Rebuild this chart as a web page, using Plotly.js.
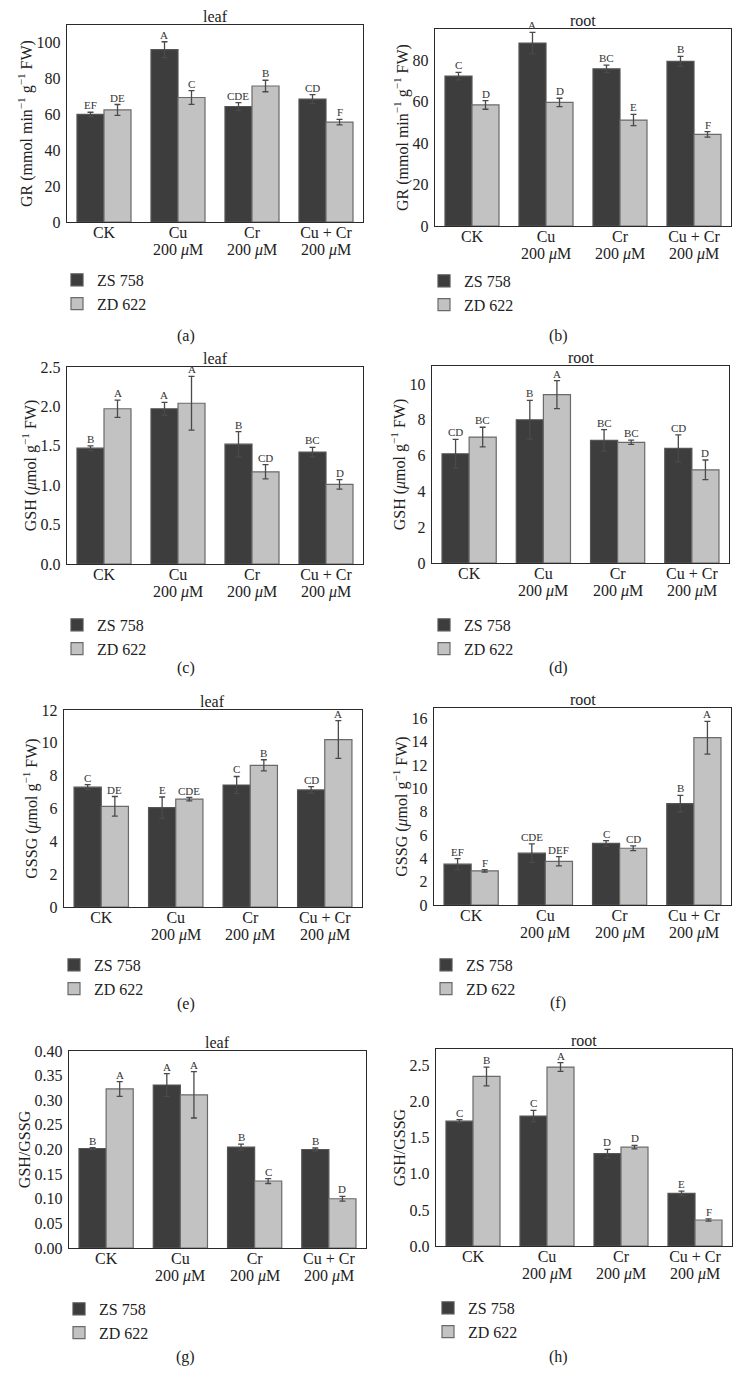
<!DOCTYPE html>
<html>
<head>
<meta charset="utf-8">
<script src="https://cdn.plot.ly/plotly-3.0.1.min.js"></script>
<style>html,body{margin:0;padding:0;background:#fff}#chart{width:743px;height:1389px}</style>
</head>
<body>
<div id="chart"></div>
<script>
// ---------- DATA ----------
const categories = ['CK', 'Cu', 'Cr', 'Cu + Cr'];
const doses = ['', '200 <i>μ</i>M', '200 <i>μ</i>M', '200 <i>μ</i>M'];
const seriesNames = ['ZS 758', 'ZD 622'];

// (a) GR leaf
const grLeafZS = [59.8, 95.8, 64.2, 68.3];
const grLeafZSErr = [1.2, 4.4, 2.2, 2.5];
const grLeafZSLet = ['EF', 'A', 'CDE', 'CD'];
const grLeafZD = [62.3, 69.2, 75.6, 55.5];
const grLeafZDErr = [3.0, 3.8, 3.2, 1.5];
const grLeafZDLet = ['DE', 'C', 'B', 'F'];

// (b) GR root
const grRootZS = [72.3, 88.2, 75.8, 79.4];
const grRootZSErr = [1.8, 5.2, 1.8, 2.4];
const grRootZSLet = ['C', 'A', 'BC', 'B'];
const grRootZD = [58.4, 59.6, 51.1, 44.2];
const grRootZDErr = [2.1, 2.0, 2.7, 1.3];
const grRootZDLet = ['D', 'D', 'E', 'F'];

// (c) GSH leaf
const gshLeafZS = [1.47, 1.97, 1.52, 1.42];
const gshLeafZSErr = [0.03, 0.08, 0.16, 0.06];
const gshLeafZSLet = ['B', 'A', 'B', 'BC'];
const gshLeafZD = [1.97, 2.04, 1.17, 1.01];
const gshLeafZDErr = [0.11, 0.34, 0.09, 0.06];
const gshLeafZDLet = ['A', 'A', 'CD', 'D'];

// (d) GSH root
const gshRootZS = [6.1, 8.0, 6.85, 6.4];
const gshRootZSErr = [0.8, 1.08, 0.6, 0.75];
const gshRootZSLet = ['CD', 'B', 'BC', 'CD'];
const gshRootZD = [7.03, 9.4, 6.74, 5.2];
const gshRootZDErr = [0.55, 0.78, 0.12, 0.55];
const gshRootZDLet = ['BC', 'A', 'BC', 'D'];

// (e) GSSG leaf
const gssgLeafZS = [7.3, 6.05, 7.43, 7.13];
const gssgLeafZSErr = [0.15, 0.65, 0.52, 0.2];
const gssgLeafZSLet = ['C', 'E', 'C', 'CD'];
const gssgLeafZD = [6.13, 6.57, 8.63, 10.2];
const gssgLeafZDErr = [0.6, 0.1, 0.34, 1.15];
const gssgLeafZDLet = ['DE', 'CDE', 'B', 'A'];

// (f) GSSG root
const gssgRootZS = [3.5, 4.45, 5.28, 8.7];
const gssgRootZSErr = [0.48, 0.8, 0.25, 0.7];
const gssgRootZSLet = ['EF', 'CDE', 'C', 'B'];
const gssgRootZD = [2.93, 3.75, 4.87, 14.35];
const gssgRootZDErr = [0.1, 0.4, 0.2, 1.4];
const gssgRootZDLet = ['F', 'DEF', 'CD', 'A'];

// (g) GSH/GSSG leaf
const ratioLeafZS = [0.202, 0.331, 0.205, 0.200];
const ratioLeafZSErr = [0.002, 0.023, 0.006, 0.003];
const ratioLeafZSLet = ['B', 'A', 'B', 'B'];
const ratioLeafZD = [0.323, 0.311, 0.136, 0.100];
const ratioLeafZDErr = [0.015, 0.047, 0.005, 0.005];
const ratioLeafZDLet = ['A', 'A', 'C', 'D'];

// (h) GSH/GSSG root
const ratioRootZS = [1.73, 1.80, 1.28, 0.73];
const ratioRootZSErr = [0.02, 0.08, 0.06, 0.03];
const ratioRootZSLet = ['C', 'C', 'D', 'E'];
const ratioRootZD = [2.35, 2.48, 1.37, 0.36];
const ratioRootZDErr = [0.13, 0.06, 0.025, 0.015];
const ratioRootZDLet = ['B', 'A', 'D', 'F'];

// ---------- LAYOUT CONFIG ----------
const W = 743, H = 1389;
const FONT = '"Liberation Serif", "Times New Roman", serif';
const DARK = '#3d3d3d', LIGHT = '#c2c2c2';
const bargap = 0.27;

const panels = [
  {lab:'(a)', title:'leaf', ytitle:'GR (mmol min<sup>−1</sup> g<sup>−1</sup> FW)', zs:grLeafZS, zse:grLeafZSErr, zsl:grLeafZSLet, zd:grLeafZD, zde:grLeafZDErr, zdl:grLeafZDLet,
   box:[67,363,25,222], range:[0,109.5], dtick:20, fmt:'', leg:[57,263], labY:336},
  {lab:'(b)', title:'root', ytitle:'GR (mmol min<sup>−1</sup> g<sup>−1</sup> FW)', zs:grRootZS, zse:grRootZSErr, zsl:grRootZSLet, zd:grRootZD, zde:grRootZDErr, zdl:grRootZDLet,
   box:[435,731,29,226], range:[0,95], dtick:20, fmt:'', leg:[424,264], labY:336},
  {lab:'(c)', title:'leaf', ytitle:'GSH (<i>μ</i>mol g<sup>−1</sup> FW)', zs:gshLeafZS, zse:gshLeafZSErr, zsl:gshLeafZSLet, zd:gshLeafZD, zde:gshLeafZDErr, zdl:gshLeafZDLet,
   box:[67,363,367,564], range:[0,2.5], dtick:0.5, fmt:'.1f', leg:[57,608], labY:668},
  {lab:'(d)', title:'root', ytitle:'GSH (<i>μ</i>mol g<sup>−1</sup> FW)', zs:gshRootZS, zse:gshRootZSErr, zsl:gshRootZSLet, zd:gshRootZD, zde:gshRootZDErr, zdl:gshRootZDLet,
   box:[432,729,366,563], range:[0,11], dtick:2, fmt:'', leg:[424,608], labY:668},
  {lab:'(e)', title:'leaf', ytitle:'GSSG (<i>μ</i>mol g<sup>−1</sup> FW)', zs:gssgLeafZS, zse:gssgLeafZSErr, zsl:gssgLeafZSLet, zd:gssgLeafZD, zde:gssgLeafZDErr, zdl:gssgLeafZDLet,
   box:[64,362,710,907], range:[0,12], dtick:2, fmt:'', leg:[54,948], labY:1004},
  {lab:'(f)', title:'root', ytitle:'GSSG (<i>μ</i>mol g<sup>−1</sup> FW)', zs:gssgRootZS, zse:gssgRootZSErr, zsl:gssgRootZSLet, zd:gssgRootZD, zde:gssgRootZDErr, zdl:gssgRootZDLet,
   box:[434,731,708,905], range:[0,16.9], dtick:2, fmt:'', leg:[426,948], labY:1003},
  {lab:'(g)', title:'leaf', ytitle:'GSH/GSSG', zs:ratioLeafZS, zse:ratioLeafZSErr, zsl:ratioLeafZSLet, zd:ratioLeafZD, zde:ratioLeafZDErr, zdl:ratioLeafZDLet,
   box:[69,366,1051,1248], range:[0,0.4], dtick:0.05, fmt:'.2f', leg:[59,1292], labY:1357},
  {lab:'(h)', title:'root', ytitle:'GSH/GSSG', zs:ratioRootZS, zse:ratioRootZSErr, zsl:ratioRootZSLet, zd:ratioRootZD, zde:ratioRootZDErr, zdl:ratioRootZDLet,
   box:[436,732,1049,1246], range:[0,2.73], dtick:0.5, fmt:'.1f', leg:[428,1291], labY:1357}
];

const data = [];
const layout = {
  width: W, height: H,
  margin: {l:0, r:0, t:0, b:0},
  paper_bgcolor: '#fff', plot_bgcolor: '#fff',
  barmode: 'group', bargap: bargap, bargroupgap: 0,
  font: {family: FONT, color: '#222', size: 15},
  showlegend: true,
  annotations: []
};

panels.forEach((p, i) => {
  const n = i + 1;
  const xa = n === 1 ? 'x' : 'x' + n;
  const ya = n === 1 ? 'y' : 'y' + n;
  const xKey = n === 1 ? 'xaxis' : 'xaxis' + n;
  const yKey = n === 1 ? 'yaxis' : 'yaxis' + n;
  const legKey = n === 1 ? 'legend' : 'legend' + n;
  const [x0, x1, y0, y1] = p.box;
  const idx = categories.map((c, k) => k);

  const mk = (name, vals, errs, fill, line) => ({
    type: 'bar', name: name, x: idx, y: vals,
    xaxis: xa, yaxis: ya, legend: legKey,
    marker: {color: fill, line: {color: line, width: 1.2}},
    error_y: {type: 'data', array: errs, visible: true, color: '#4a4a4a', thickness: 1.3, width: 3},
    hoverinfo: 'skip'
  });
  data.push(mk(seriesNames[0], p.zs, p.zse, DARK, '#555'));
  data.push(mk(seriesNames[1], p.zd, p.zde, LIGHT, '#6a6a6a'));

  layout[xKey] = {
    domain: [x0 / W, x1 / W], anchor: ya,
    range: [-0.5, categories.length - 0.5],
    tickmode: 'array', tickvals: idx, ticktext: categories,
    showline: true, mirror: true, linecolor: '#2a2a2a', linewidth: 1.2,
    ticks: '', showgrid: false, zeroline: false, ticklabelstandoff: -4,
    tickfont: {family: FONT, size: 16, color: '#222'}
  };
  layout[yKey] = {
    domain: [1 - y1 / H, 1 - y0 / H], anchor: xa,
    range: p.range, dtick: p.dtick, tick0: 0, tickformat: p.fmt,
    showline: true, mirror: true, linecolor: '#2a2a2a', linewidth: 1.2,
    ticks: '', showgrid: false, zeroline: false, ticklabelstandoff: 2,
    tickfont: {family: FONT, size: 16, color: '#222'},
    title: {text: p.ytitle, font: {family: FONT, size: 16, color: '#222'}, standoff: 0}
  };
  layout[legKey] = {
    x: p.leg[0] / W, y: 1 - p.leg[1] / H, xanchor: 'left', yanchor: 'top',
    bgcolor: 'rgba(0,0,0,0)', font: {family: FONT, size: 16, color: '#222'},
    tracegroupgap: 0, itemclick: false
  };

  // second line of the category labels (dose)
  doses.forEach((d, k) => {
    if (!d) return;
    layout.annotations.push({
      xref: xa, yref: 'paper', x: k, y: 1 - y1 / H, yshift: -28,
      text: d, showarrow: false, yanchor: 'middle', xanchor: 'center',
      font: {family: FONT, size: 16, color: '#222'}
    });
  });

  // bar half offset in pixels
  const catPx = (x1 - x0) / categories.length;
  const barPx = catPx * (1 - bargap) / 2;
  const groups = [[p.zs, p.zse, p.zsl, -barPx / 2], [p.zd, p.zde, p.zdl, barPx / 2]];
  groups.forEach(([v, e, l, sh]) => {
    v.forEach((val, k) => {
      layout.annotations.push({
        xref: xa, yref: ya, x: k, y: val + e[k], xshift: sh, yshift: -1,
        text: l[k], showarrow: false, yanchor: 'bottom', xanchor: 'center',
        font: {family: FONT, size: 11, color: '#333'}
      });
    });
  });

  // panel title
  layout.annotations.push({
    xref: 'paper', yref: 'paper', x: ((x0 + x1) / 2) / W, y: 1 - y0 / H,
    text: p.title, showarrow: false, yanchor: 'bottom', xanchor: 'center', yshift: -2,
    font: {family: FONT, size: 16, color: '#222'}
  });
  // panel label
  layout.annotations.push({
    xref: 'paper', yref: 'paper', x: (i % 2 === 0 ? 186 : 558) / W, y: 1 - p.labY / H,
    text: p.lab, showarrow: false, yanchor: 'middle', xanchor: 'center',
    font: {family: FONT, size: 16, color: '#222'}
  });
});

Plotly.newPlot('chart', data, layout, {staticPlot: true, displayModeBar: false});
</script>
</body>
</html>
